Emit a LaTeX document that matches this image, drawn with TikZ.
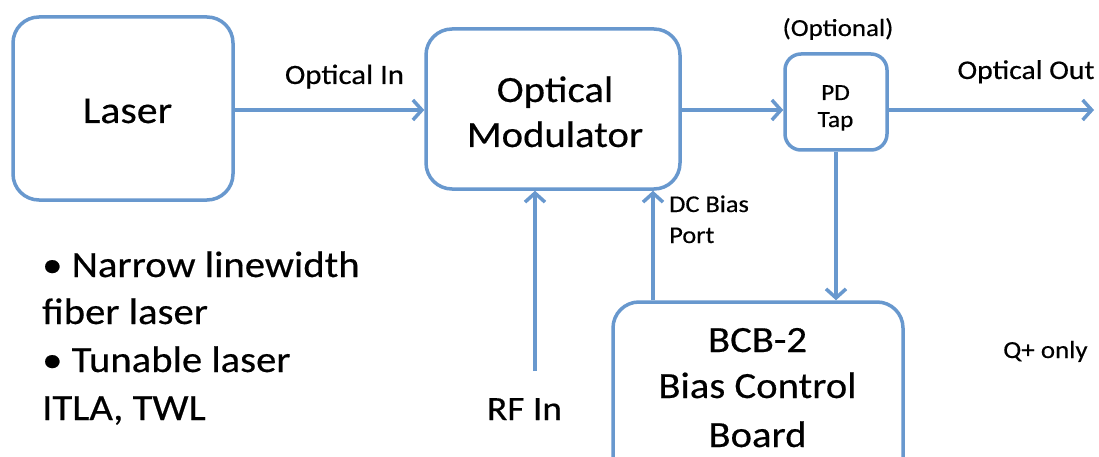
\documentclass[tikz,border=0pt]{standalone}
\usepackage{fontspec}
\setmainfont{Carlito}[FakeStretch=1.1, FakeBold=0.4]
\usetikzlibrary{arrows.meta}
\definecolor{lineblue}{RGB}{104,152,206}
\tikzset{
  blk/.style={draw=lineblue, line width=3.5pt, rounded corners=26pt, inner sep=0pt},
  arr/.style={draw=lineblue, line width=3.5pt, -{Straight Barb[length=9pt,width=20pt,line width=3.5pt]}},
  txt/.style={inner sep=0pt, anchor=base},
  big/.style={txt, font=\fontsize{37}{44}\selectfont},
  mid/.style={txt, font=\fontsize{28}{33}\selectfont},
  small/.style={txt, font=\fontsize{24.5}{30}\selectfont},
}
\begin{document}
\begin{tikzpicture}[x=1pt,y=-1pt]
\clip (0,0) rectangle (1099,457);
\fill[white] (0,0) rectangle (1099,457);
% boxes
\node[blk, minimum width=220pt, minimum height=183pt] (laser) at (123,108.5) {};
\node[blk, minimum width=254pt, minimum height=160pt] (mod) at (553,109) {};
\node[blk, rounded corners=16pt, minimum width=102pt, minimum height=96pt] (pd) at (836,102) {};
\node[blk, minimum width=290pt, minimum height=190pt] (bcb) at (758,397) {};
% box texts
\node[big, font=\fontsize{38}{44}\selectfont] (lasertxt) at (127.5,123) {Laser};
\node[big] (modA) at (555,102) {Optical};
\node[big] (modB) at (555,147) {Modulator};
\node[txt, font=\fontsize{23}{27}\selectfont] (pdA) at (835.5,100) {PD};
\node[txt, font=\fontsize{23}{27}\selectfont] (pdB) at (835.5,127) {Tap};
\node[big] (bcbA) at (757.5,352) {BCB-2};
\node[big] (bcbB) at (757.5,398) {Bias Control};
\node[big] (bcbC) at (757.5,447) {Board};
% labels
\node[mid] (optin) at (344.5,84) {Optical In};
\node[mid, font=\fontsize{27}{33}\selectfont] (optout) at (1026,79) {Optical Out};
\node[small] (optional) at (838,36) {(Optional)};
\node[small, anchor=base west, font=\fontsize{24}{30}\selectfont] (dcA) at (669,212) {DC Bias};
\node[small, anchor=base west, font=\fontsize{24}{30}\selectfont] (dcB) at (669,243) {Port};
\node[big, font=\fontsize{34}{40}\selectfont] (rfin) at (524.5,420) {RF In};
\node[small, anchor=base west] (qplus) at (1003,358) {Q+ only};
\node[big, anchor=base west] (bulA) at (42,277) {• Narrow linewidth};
\node[big, anchor=base west] (bulB) at (42,324) {fiber laser};
\node[big, anchor=base west] (bulC) at (42,372) {• Tunable laser};
\node[big, anchor=base west] (bulD) at (42,420) {ITLA, TWL};
% coordinates
\coordinate (out) at (1094,110);
\coordinate (rf) at (535,371);
\coordinate (dcx) at (653,0);
% connectors
\draw[arr] (laser.east |- 0,110) -- (mod.west |- 0,110);
\draw[arr] (mod.east |- 0,110) -- (pd.west |- 0,110);
\draw[arr] (pd.east |- 0,110) -- (out);
\draw[arr] (pd.south) -- (pd.south |- bcb.north);
\draw[arr] (bcb.north -| dcx) -- (mod.south -| dcx);
\draw[arr] (rf) -- (mod.south -| rf);
\end{tikzpicture}
\end{document}
